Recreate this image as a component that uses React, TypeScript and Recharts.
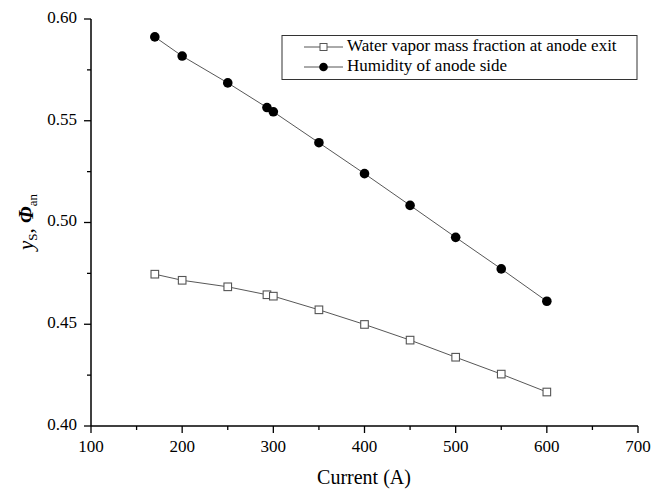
import React from 'react';
import { LineChart, Line, XAxis, YAxis } from 'recharts';

const currents = [170, 200, 250, 293, 300, 350, 400, 450, 500, 550, 600];
const waterVapor = [0.4746, 0.4716, 0.4684, 0.4645, 0.4638, 0.4571, 0.4499, 0.4422, 0.4338, 0.4255, 0.4167];
const humidity = [0.5912, 0.5818, 0.5686, 0.5565, 0.5544, 0.5392, 0.524, 0.5084, 0.4927, 0.4772, 0.4613];

const seriesNames = ['Water vapor mass fraction at anode exit', 'Humidity of anode side'];
const xTicks = [100, 150, 200, 250, 300, 350, 400, 450, 500, 550, 600, 650, 700];
const yTicks = [0.4, 0.425, 0.45, 0.475, 0.5, 0.525, 0.55, 0.575, 0.6];

const data = currents.map((c, i) => ({ current: c, vapor: waterVapor[i], humidity: humidity[i] }));

const FONT = 'Liberation Serif';
const INK = '#000';

const isMajorX = (v: number) => v % 100 === 0;
const isMajorY = (v: number) => Math.round(v * 1000) % 50 === 0;

const BottomTick = (props: any) => {
  const { x, y, payload } = props;
  const major = isMajorX(payload.value);
  return (
    <g>
      <line x1={x} x2={x} y1={y} y2={y + (major ? 7 : 4)} stroke={INK} strokeWidth={1.3} />
      {major && (
        <text x={x} y={y + 22} textAnchor="middle" dominantBaseline="middle" fontFamily={FONT} fontSize={17} fill={INK}>
          {payload.value}
        </text>
      )}
    </g>
  );
};

const LeftTick = (props: any) => {
  const { x, y, payload } = props;
  const major = isMajorY(payload.value);
  return (
    <g>
      <line x1={x} x2={x - (major ? 7 : 4)} y1={y} y2={y} stroke={INK} strokeWidth={1.3} />
      {major && (
        <text x={x - 14} y={y} textAnchor="end" dominantBaseline="middle" fontFamily={FONT} fontSize={17} fill={INK}>
          {payload.value.toFixed(2)}
        </text>
      )}
    </g>
  );
};

const TopTick = (props: any) => {
  const { x, y } = props;
  return <line x1={x} x2={x} y1={y} y2={y + 5} stroke={INK} strokeWidth={1.3} />;
};

const RightTick = (props: any) => {
  const { x, y } = props;
  return <line x1={x} x2={x - 5} y1={y} y2={y} stroke={INK} strokeWidth={1.3} />;
};

const XTitle = () => (
  <text x={364} y={479} textAnchor="middle" dominantBaseline="middle" fontFamily={FONT} fontSize={20} fill={INK}>
    Current (A)
  </text>
);

const YTitle = () => (
  <text x={0} y={0} transform="translate(33, 222) rotate(-90)" textAnchor="middle" fontFamily={FONT} fontSize={21} fill={INK}>
    <tspan fontStyle="italic">y</tspan>
    <tspan fontSize={13} dy={4}>S</tspan>
    <tspan dy={-4}>, </tspan>
    <tspan fontStyle="italic" fontWeight="bold">Φ</tspan>
    <tspan fontSize={13} dy={4}>an</tspan>
  </text>
);

const Square = (props: any) => {
  const { cx, cy } = props;
  if (cx == null || cy == null) return null;
  return <rect x={cx - 3.8} y={cy - 3.8} width={7.6} height={7.6} fill="#fff" stroke="#555" strokeWidth={1.1} />;
};

const Dot = (props: any) => {
  const { cx, cy } = props;
  if (cx == null || cy == null) return null;
  return <circle cx={cx} cy={cy} r={4.8} fill="#000" />;
};

const LegendBox = () => (
  <svg width={654} height={494} style={{ position: 'absolute', left: 0, top: 0, pointerEvents: 'none' }}>
    <rect x={282} y={35.5} width={355} height={44} fill="#fff" stroke="#333" strokeWidth={1} />
    <line x1={304} x2={343} y1={47} y2={47} stroke="#555" strokeWidth={1} />
    <rect x={320} y={43.5} width={7} height={7} fill="#fff" stroke="#555" strokeWidth={1} />
    <text x={347} y={47} dominantBaseline="middle" fontFamily={FONT} fontSize={17} fill={INK}>
      {seriesNames[0]}
    </text>
    <line x1={304} x2={343} y1={67} y2={67} stroke="#555" strokeWidth={1} />
    <circle cx={323.5} cy={67} r={4.3} fill="#000" />
    <text x={347} y={67} dominantBaseline="middle" fontFamily={FONT} fontSize={17} fill={INK}>
      {seriesNames[1]}
    </text>
  </svg>
);

export default function App() {
  return (
    <div style={{ position: 'absolute', left: 0, top: 0, width: 654, height: 494, background: '#fff' }}>
      <LineChart width={654} height={494} data={data} margin={{ top: 19, right: 16, bottom: 0, left: 0 }}>
        <XAxis
          dataKey="current"
          type="number"
          domain={[100, 700]}
          ticks={xTicks}
          interval={0}
          height={68}
          tickSize={0}
          tickMargin={0}
          tickLine={false}
          tick={<BottomTick />}
          axisLine={{ stroke: INK, strokeWidth: 1.5 }}
          label={{ content: () => <XTitle /> }}
        />
        <XAxis
          xAxisId="top"
          orientation="top"
          type="number"
          domain={[100, 700]}
          ticks={xTicks}
          interval={0}
          height={0}
          tickSize={0}
          tickMargin={0}
          tickLine={false}
          tick={<TopTick />}
          axisLine={{ stroke: INK, strokeWidth: 1.5 }}
        />
        <YAxis
          type="number"
          domain={[0.4, 0.6]}
          ticks={yTicks}
          interval={0}
          width={91}
          tickSize={0}
          tickMargin={0}
          tickLine={false}
          tick={<LeftTick />}
          axisLine={{ stroke: INK, strokeWidth: 1.5 }}
          label={{ content: () => <YTitle /> }}
        />
        <YAxis
          yAxisId="right"
          orientation="right"
          type="number"
          domain={[0.4, 0.6]}
          ticks={yTicks}
          interval={0}
          width={0}
          tickSize={0}
          tickMargin={0}
          tickLine={false}
          tick={<RightTick />}
          axisLine={{ stroke: INK, strokeWidth: 1.5 }}
        />
        <Line
          dataKey="vapor"
          name={seriesNames[0]}
          type="linear"
          stroke="#444"
          strokeWidth={0.9}
          dot={<Square />}
          isAnimationActive={false}
        />
        <Line
          dataKey="humidity"
          name={seriesNames[1]}
          type="linear"
          stroke="#444"
          strokeWidth={0.9}
          dot={<Dot />}
          isAnimationActive={false}
        />
      </LineChart>
      <LegendBox />
    </div>
  );
}
